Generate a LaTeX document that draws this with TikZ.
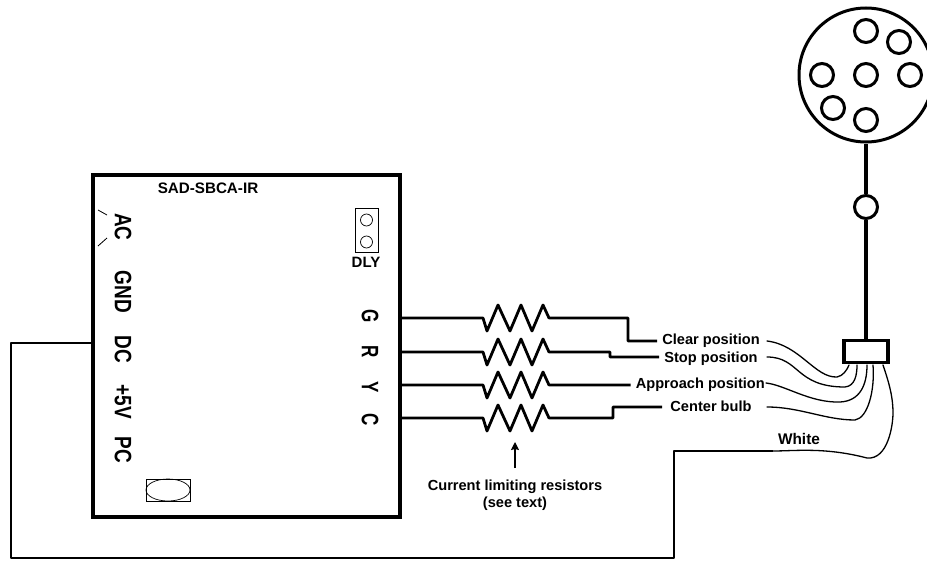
\documentclass[tikz,border=0pt]{standalone}
\usepackage{fontspec}
\usepackage{graphicx}
\setmainfont{Liberation Sans}
\usetikzlibrary{arrows.meta,calc}
\tikzset{
 x=1pt,y=-1pt,
 thickw/.style={line width=2.8pt,line join=round},
 thinw/.style={line width=1.3pt,line cap=round},
 pin/.style={circle,draw,line width=3pt,fill=white,minimum size=23pt,inner sep=0pt},
 hole/.style={circle,draw,line width=.7pt,minimum size=12pt,inner sep=0pt},
 lab/.style={font=\bfseries\fontsize{14.6}{16}\selectfont,inner sep=0pt,align=center},
 side/.style={font=\bfseries\fontsize{19}{21}\selectfont,inner sep=0pt,rotate=-90},
 sider/.style={font=\bfseries\fontsize{17}{19}\selectfont,inner sep=0pt,rotate=-90}
}
\newcommand{\zig}[1]{-- (483,#1) -- (487,#1+13) -- (498,#1-13) -- (510,#1+13) -- (521,#1-13) -- (532,#1+13) -- (543,#1-13) -- (549,#1)}
\newcommand{\tall}[2]{\scalebox{1}[#1]{#2}}
\begin{document}
\begin{tikzpicture}
\useasboundingbox (0,0) rectangle (927,562);
\begin{scope}
\clip (0,0) rectangle (927,562);
\node[circle,draw,line width=3pt,minimum size=134pt,inner sep=0pt] (lens) at (866,75) {};
\foreach \n/\a/\b in {p1/866/31,p2/899/42,p3/822/75,p4/866/75,p5/910/75,p6/833/108,p7/866/120}
  \node[pin] (\n) at (\a,\b) {};
\end{scope}
% board
\node[draw,line width=3.8pt,minimum width=307pt,minimum height=342pt,inner sep=0pt] (board) at (246.5,346) {};
\node[lab,font=\bfseries\fontsize{15.2}{17}\selectfont] (title) at (208,188) {SAD-SBCA-IR};
\draw[line width=.8pt] (98,210) -- (107,215);
\draw[line width=.8pt] (98,246) -- (107,238);
\node[side] (ac) at (123,227) {\tall{1.25}{AC}};
\node[side] (gnd) at (123,292) {\tall{1.25}{GND}};
\node[side] (dc) at (123,349) {\tall{1.25}{DC}};
\node[side] (v5) at (123,402) {\tall{1.25}{+5V}};
\node[side] (pc) at (123,450) {\tall{1.25}{PC}};
\node[sider] (g) at (370,316) {\tall{1.4}{G}};
\node[sider] (r) at (370,352) {\tall{1.4}{R}};
\node[sider] (y) at (370,387) {\tall{1.4}{Y}};
\node[sider] (c) at (370,420) {\tall{1.4}{C}};
% DLY jumper
\node[draw,line width=.7pt,minimum width=23pt,minimum height=44pt,inner sep=0pt] (dlybox) at (366.5,230) {};
\node[hole] (h1) at (366.5,220) {};
\node[hole] (h2) at (366.5,242) {};
\node[lab,font=\bfseries\fontsize{15}{17}\selectfont] (dly) at (366,262) {DLY};
% oval
\node[draw,line width=.7pt,minimum width=44pt,minimum height=22pt,inner sep=0pt] (ovbox) at (168,490) {};
\draw[line width=.7pt] (ovbox.center) ellipse (22pt and 11pt);
% lamp head
\node[pin] (sm) at (866,207) {};
\node[draw,line width=3.4pt,fill=white,minimum width=44pt,minimum height=22pt,inner sep=0pt] (conn) at (866,351.5) {};
\draw[line width=3.4pt] (lens.south) -- (sm.north);
\draw[line width=3.4pt] (sm.south) -- (conn.north);
% labels
\node[lab] (clear) at (711,341) {Clear position};
\node[lab] (stop) at (711,359) {Stop position};
\node[lab,anchor=east] (appr) at (765,385) {Approach position};
\node[lab] (cent) at (711,406.5) {Center bulb};
\node[lab,font=\bfseries\fontsize{15.4}{17}\selectfont] (white) at (799,439) {White};
\node[lab] (cur) at (515,487) {Current limiting resistors};
\node[lab] (see) at (515,504) {(see text)};
% wires with resistors
\coordinate (gs) at (board.east |- 0,318);
\coordinate (rs) at (board.east |- 0,352);
\coordinate (ys) at (board.east |- 0,385);
\coordinate (cs) at (board.east |- 0,418);
\draw[thickw,shorten >=5pt] (gs) \zig{318} -- (628,318) -- (628,341) -- (clear.west);
\draw[thickw,shorten >=5pt] (rs) \zig{352} -- (610,352) -- (610,357) -- (stop.west |- 0,357);
\draw[thickw,shorten >=5pt] (ys) \zig{385} -- (appr.west |- 0,385);
\draw[thickw,shorten >=8pt] (cs) \zig{418} -- (613,418) -- (613,407) -- (cent.west |- 0,407);
\coordinate (arrowb) at (515,468);
\coordinate (arrowt) at (515,442);
\draw[line width=1.1pt,-{Stealth[length=8pt,width=8pt,inset=1pt]}] (arrowb) -- (arrowt);
% lamp wires
\coordinate (cw) at (767,341);
\coordinate (sw) at (767,357);
\coordinate (aw) at (766,383);
\coordinate (bw) at (767,407);
\coordinate (ww) at (773,451);
\draw[thinw] (cw) .. controls (800,345) and (815,378) .. (837,377) .. controls (843,376) and (847,370) .. (849,365);
\draw[thinw] (sw) .. controls (800,357) and (795,387) .. (845,387) .. controls (855,386) and (857,375) .. (857,365);
\draw[thinw] (aw) .. controls (785,385) and (810,403) .. (840,402) .. controls (860,401) and (867,385) .. (867,365);
\draw[thinw] (bw) .. controls (800,407) and (825,420) .. (855,420) .. controls (868,418) and (875,390) .. (873,365);
\draw[thinw] (ww) .. controls (795,451) and (825,447) .. (867,458) .. controls (888,460) and (893,425) .. (893,413) .. controls (893,395) and (888,380) .. (883,365);
% DC wire
\draw[thickw] (ww) -- (674,451) -- (674,558) -- (11,558) -- (11,343) -- (board.west |- 0,343);
\end{tikzpicture}
\end{document}
